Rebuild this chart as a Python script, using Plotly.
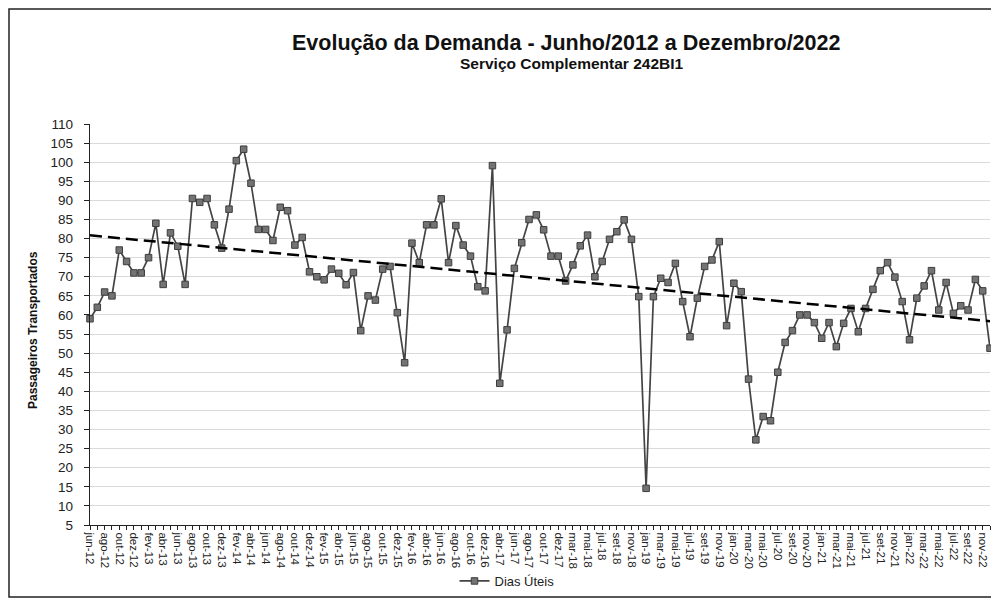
import plotly.graph_objects as go
import numpy as np

months = (
    ["jun-12", "jul-12", "ago-12", "set-12", "out-12", "nov-12", "dez-12"]
    + [m + "-13" for m in ["jan", "fev", "mar", "abr", "mai", "jun", "jul", "ago", "set", "out", "nov", "dez"]]
    + [m + "-14" for m in ["jan", "fev", "mar", "abr", "mai", "jun", "jul", "ago", "set", "out", "nov", "dez"]]
    + [m + "-15" for m in ["jan", "fev", "mar", "abr", "mai", "jun", "jul", "ago", "set", "out", "nov", "dez"]]
    + [m + "-16" for m in ["jan", "fev", "mar", "abr", "mai", "jun", "jul", "ago", "set", "out", "nov", "dez"]]
    + [m + "-17" for m in ["mar", "abr", "mai", "jun", "jul", "ago", "set", "out", "nov", "dez"]]
    + [m + "-18" for m in ["fev", "mar", "abr", "mai", "jun", "jul", "ago", "set", "out", "nov", "dez"]]
    + [m + "-19" for m in ["jan", "fev", "mar", "abr", "mai", "jun", "jul", "ago", "set", "out", "nov", "dez"]]
    + [m + "-20" for m in ["jan", "fev", "mar", "abr", "mai", "jun", "jul", "ago", "set", "out", "nov", "dez"]]
    + [m + "-21" for m in ["jan", "fev", "mar", "abr", "mai", "jun", "jul", "ago", "set", "out", "nov", "dez"]]
    + [m + "-22" for m in ["jan", "fev", "mar", "abr", "mai", "jun", "jul", "ago", "set", "out", "nov", "dez"]]
)

dias_uteis = [
    59, 62, 66, 65, 77, 74, 71, 71, 75, 84,
    68, 81.5, 78, 68, 90.5, 89.5, 90.5, 83.6, 77.5, 87.7,
    100.4, 103.4, 94.5, 82.4, 82.4, 79.5, 88.2, 87.3, 78.3, 80.3,
    71.3, 70, 69.2, 72, 70.9, 67.9, 71.1, 55.9, 65, 63.9,
    72, 72.7, 60.6, 47.5, 78.8, 73.7, 83.6, 83.6, 90.4, 73.7,
    83.4, 78.3, 75.4, 67.4, 66.3, 99.1, 42.1, 56.1, 72.2, 78.9,
    85, 86.2, 82.3, 75.4, 75.4, 68.9, 73.1, 78.1, 80.9, 70,
    74, 79.8, 81.8, 84.9, 79.8, 64.8, 14.6, 64.8, 69.6, 68.5,
    73.5, 63.5, 54.3, 64.4, 72.7, 74.4, 79.2, 57.2, 68.3, 66.1,
    43.2, 27.3, 33.4, 32.3, 45, 52.8, 55.9, 60, 60, 58,
    53.9, 58, 51.7, 57.8, 61.7, 55.6, 61.7, 66.7, 71.6, 73.7,
    69.9, 63.5, 53.5, 64.4, 67.6, 71.6, 61.3, 68.5, 60.4, 62.4,
    61.3, 69.3, 66.3, 51.3,
]

y_ticks = list(range(5, 111, 5))

title_text = "Evolução da Demanda - Junho/2012 a Dezembro/2022"
subtitle_text = "Serviço Complementar 242BI1"
y_title = "Passageiros Transportados"
series_name = "Dias Úteis"

# page body has an 8px margin; work in screen pixels and convert
OFF = 8
W, H = 999 - OFF, 606 - OFF
PLOT_X0, PLOT_X1 = 90, 990      # screen px
PLOT_Y0, PLOT_Y1 = 124, 525     # screen px (top, bottom)
L = PLOT_X0 - OFF
R = W - (PLOT_X1 - OFF)
T = PLOT_Y0 - OFF
B = H - (PLOT_Y1 - OFF)
PW, PH = PLOT_X1 - PLOT_X0, PLOT_Y1 - PLOT_Y0


def px(x):
    return (x - PLOT_X0) / PW


def py(y):
    return (PLOT_Y1 - y) / PH


xs = list(range(len(months)))
coef = np.polyfit(xs, dias_uteis, 1)
trend = np.polyval(coef, [xs[0], xs[-1]])

fig = go.Figure()
fig.add_trace(go.Scatter(
    x=xs, y=dias_uteis, mode="lines+markers", name=series_name,
    line=dict(color="#444444", width=1.7),
    marker=dict(symbol="square", size=6.5, color="#737373", line=dict(color="#3d3d3d", width=1)),
    cliponaxis=False,
))
fig.add_trace(go.Scatter(
    x=[xs[0], xs[-1]], y=list(trend), mode="lines", showlegend=False,
    line=dict(color="black", width=2.5, dash="12px,6px"), hoverinfo="skip",
))

fig.update_layout(
    width=W, height=H,
    margin=dict(l=L, r=R, t=T, b=B),
    paper_bgcolor="white", plot_bgcolor="white",
    font=dict(family="Liberation Sans, Arial, sans-serif", color="#111"),
    showlegend=True,
    legend=dict(orientation="h", x=px(507), xanchor="center", y=py(581), yanchor="middle",
                font=dict(size=13, color="#222"), bgcolor="rgba(0,0,0,0)"),
    xaxis=dict(
        range=[0, len(months) - 1],
        tickmode="array", tickvals=xs[::2], ticktext=months[::2],
        tickangle=90, tickfont=dict(size=11.5, color="#222"),
        ticks="outside", ticklen=4, tickcolor="#222",
        minor=dict(ticks="outside", dtick=1, tick0=0, ticklen=4, tickcolor="#222"),
        showline=True, linecolor="#222", linewidth=1.2,
        showgrid=False, zeroline=False,
    ),
    yaxis=dict(
        range=[5, 110], tickmode="array", tickvals=y_ticks,
        tickfont=dict(size=13.5, color="#222"),
        ticks="outside", ticklen=5, tickcolor="#222",
        showline=True, linecolor="#222", linewidth=1.4,
        showgrid=True, gridcolor="#dadada", gridwidth=1, zeroline=False,
        ticklabelstandoff=8,
    ),
)

fig.add_annotation(text="<b>" + title_text + "</b>", xref="paper", yref="paper",
                   x=px(566), y=py(43), xanchor="center", yanchor="middle",
                   showarrow=False, font=dict(size=21.5, color="#111"))
fig.add_annotation(text="<b>" + subtitle_text + "</b>", xref="paper", yref="paper",
                   x=px(572), y=py(63), xanchor="center", yanchor="middle",
                   showarrow=False, font=dict(size=15.5, color="#111"))
fig.add_annotation(text="<b>" + y_title + "</b>", xref="paper", yref="paper",
                   x=px(33), y=py(330), xanchor="center", yanchor="middle",
                   textangle=-90, showarrow=False, font=dict(size=12, color="#111"))

fig.add_shape(type="rect", xref="paper", yref="paper",
              x0=px(9), x1=px(994), y0=py(597), y1=py(9),
              line=dict(color="#222", width=1.5), fillcolor="rgba(0,0,0,0)", layer="below")

fig.write_html("out.html")
